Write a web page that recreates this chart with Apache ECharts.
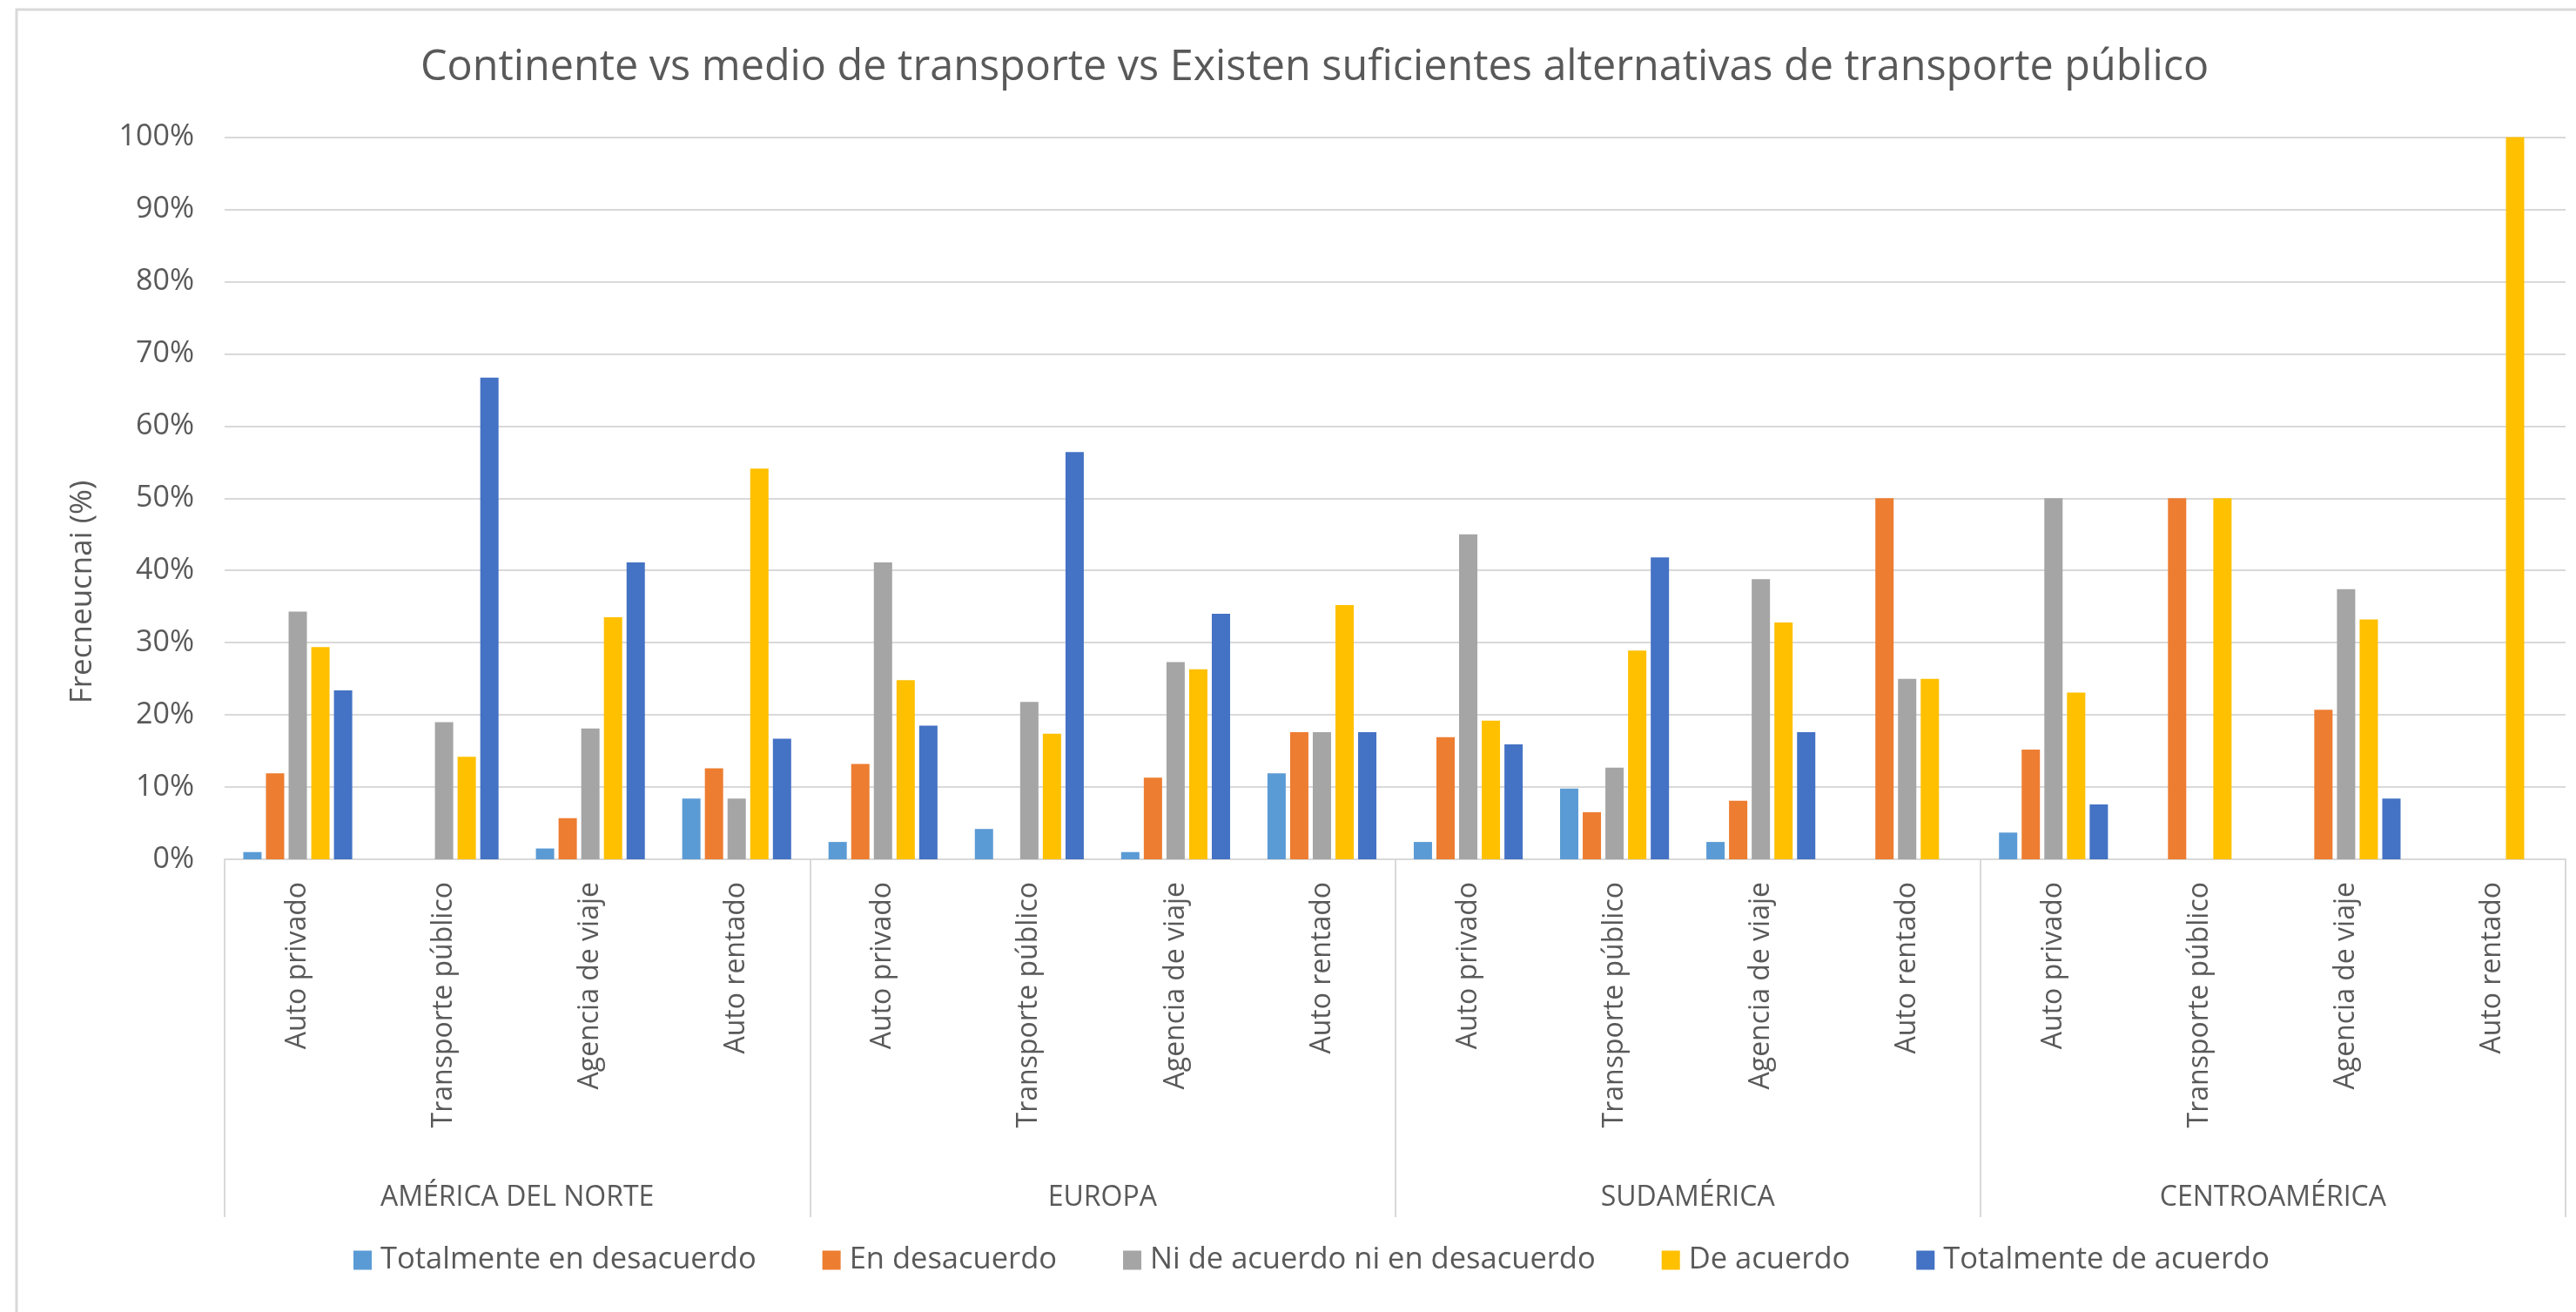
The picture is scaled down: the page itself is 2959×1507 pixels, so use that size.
<!DOCTYPE html>
<html>
<head>
<meta charset="utf-8">
<script src="https://cdn.jsdelivr.net/npm/echarts@6/dist/echarts.min.js"></script>
<style>
html,body{margin:0;padding:0;background:#fff;}
#chart{width:2959px;height:1507px;}
</style>
</head>
<body>
<div id="chart"></div>
<script>
const titleText = 'Continente vs medio de transporte vs Existen suficientes alternativas de transporte público';
const yAxisTitle = 'Frecneucnai (%)';
const modes = ['Auto privado', 'Transporte público', 'Agencia de viaje', 'Auto rentado'];
const groups = ['AMÉRICA DEL NORTE', 'EUROPA', 'SUDAMÉRICA', 'CENTROAMÉRICA'];
const categories = groups.flatMap(() => modes);
const seriesNames = ['Totalmente en desacuerdo', 'En desacuerdo', 'Ni de acuerdo ni en desacuerdo', 'De acuerdo', 'Totalmente de acuerdo'];
const totalmenteDesacuerdo = [1.0, 0, 1.5, 8.4, 2.4, 4.2, 1.0, 11.9, 2.4, 9.8, 2.4, 0, 3.7, 0, 0, 0];
const enDesacuerdo = [11.9, 0, 5.7, 12.6, 13.2, 0, 11.3, 17.6, 16.9, 6.5, 8.1, 50, 15.2, 50, 20.7, 0];
const niDeAcuerdo = [34.3, 19.0, 18.1, 8.4, 41.1, 21.8, 27.3, 17.6, 45.0, 12.7, 38.8, 25.0, 50, 0, 37.4, 0];
const deAcuerdo = [29.4, 14.2, 33.5, 54.1, 24.8, 17.4, 26.3, 35.2, 19.2, 28.9, 32.8, 25.0, 23.1, 50, 33.2, 100];
const totalmenteAcuerdo = [23.4, 66.7, 41.1, 16.7, 18.5, 56.4, 34.0, 17.6, 15.9, 41.8, 17.6, 0, 7.6, 0, 8.4, 0];
const yTicks = [0, 10, 20, 30, 40, 50, 60, 70, 80, 90, 100];

const colors = ['#5B9BD5', '#ED7D31', '#A5A5A5', '#FFC000', '#4472C4'];
const values = [totalmenteDesacuerdo, enDesacuerdo, niDeAcuerdo, deAcuerdo, totalmenteAcuerdo];
const font = 'Open Sans';
const textColor = '#595959';

const chart = echarts.init(document.getElementById('chart'), null, {renderer: 'canvas'});
chart.setOption({
  backgroundColor: '#ffffff',
  animation: false,
  color: colors,
  title: {
    text: titleText,
    left: 478,
    top: 49,
    textStyle: {fontFamily: font, fontSize: 48.5, fontWeight: 'normal', color: textColor}
  },
  legend: {
    data: seriesNames,
    left: 401,
    top: 1425,
    itemWidth: 21,
    itemHeight: 22,
    itemGap: 76,
    icon: 'rect',
    textStyle: {fontFamily: font, fontSize: 34.5, color: textColor, padding: [0, 0, 0, 5]}
  },
  grid: {left: 258, right: 12, top: 157.5, bottom: 520, containLabel: false},
  xAxis: [
    {
      type: 'category',
      data: categories,
      position: 'bottom',
      axisLine: {show: true, lineStyle: {color: '#D9D9D9', width: 2}},
      axisTick: {show: false},
      axisLabel: {interval: 0, rotate: 90, margin: 26, fontFamily: font, fontSize: 32, color: textColor}
    },
    {
      type: 'category',
      data: groups,
      position: 'bottom',
      axisLine: {show: false},
      axisTick: {show: true, length: 411, lineStyle: {color: '#D9D9D9', width: 2}},
      axisLabel: {interval: 0, margin: 373, fontFamily: font, fontSize: 32, color: textColor}
    }
  ],
  yAxis: {
    type: 'value',
    min: yTicks[0],
    max: yTicks[yTicks.length - 1],
    interval: 10,
    axisLine: {show: false},
    axisTick: {show: false},
    splitLine: {lineStyle: {color: '#D9D9D9', width: 2}},
    axisLabel: {formatter: '{value}%', margin: 35, fontFamily: font, fontSize: 34, color: textColor}
  },
  graphic: [
    {
      type: 'rect',
      shape: {x: 19, y: 11, width: 2960, height: 1530},
      style: {fill: 'none', stroke: '#D9D9D9', lineWidth: 3},
      silent: true,
      z: -1
    },
    {
      type: 'text',
      x: 95,
      y: 680,
      rotation: Math.PI / 2,
      style: {text: yAxisTitle, fontFamily: font, fontSize: 35, fill: textColor, align: 'center', verticalAlign: 'middle'}
    }
  ],
  series: seriesNames.map((name, i) => ({
    name: name,
    type: 'bar',
    xAxisIndex: 0,
    data: values[i],
    barWidth: 21,
    barGap: '24%',
    itemStyle: {color: colors[i]}
  }))
});
</script>
</body>
</html>
